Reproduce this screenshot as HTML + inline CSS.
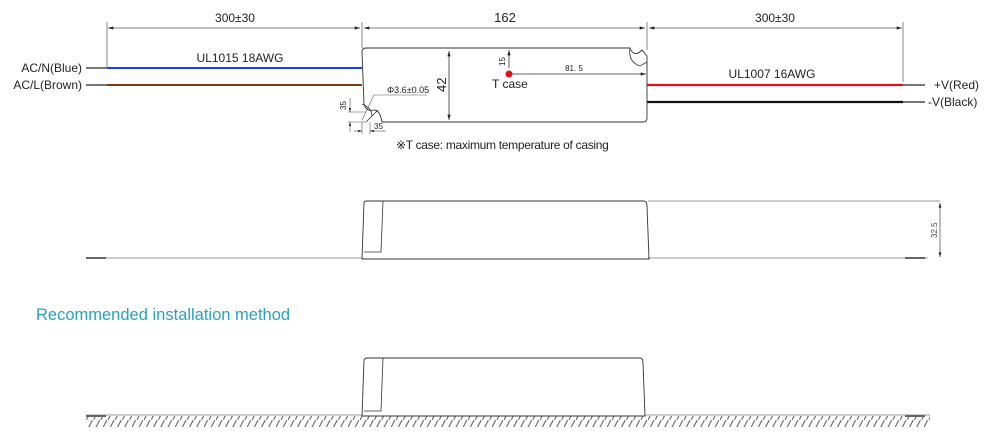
<!DOCTYPE html>
<html><head><meta charset="utf-8"><style>
html,body{margin:0;padding:0;background:#fff;width:1000px;height:440px;overflow:hidden}
svg{display:block}
text{font-family:"Liberation Sans",sans-serif}
</style></head><body>
<svg width="1000" height="440" viewBox="0 0 1000 440" xmlns="http://www.w3.org/2000/svg">
<defs>
<marker id="a" viewBox="0 0 10 6" refX="10" refY="3" markerWidth="7" markerHeight="4" orient="auto-start-reverse"><path d="M0,0L10,3L0,6z" fill="#222"/></marker>
<pattern id="h" width="7.2" height="12" patternUnits="userSpaceOnUse"><path d="M6,0L0,12" stroke="#555" stroke-width="1"/></pattern>
</defs>
<g stroke="#888" stroke-width="1" fill="none">
<line x1="107" y1="22" x2="107" y2="68"/>
<line x1="362" y1="22" x2="362" y2="48"/>
<line x1="647" y1="22" x2="647" y2="50"/>
<line x1="903" y1="22" x2="903" y2="82"/>
</g>
<g stroke="#555" stroke-width="0.8" fill="none">
<line x1="108" y1="28" x2="360" y2="28" marker-start="url(#a)" marker-end="url(#a)"/>
<line x1="364" y1="28" x2="645" y2="28" marker-start="url(#a)" marker-end="url(#a)"/>
<line x1="649" y1="28" x2="902" y2="28" marker-start="url(#a)" marker-end="url(#a)"/>
</g>
<g font-size="12" fill="#222" text-anchor="middle">
<text x="235" y="22">300±30</text>
<text x="505" y="22" font-size="13">162</text>
<text x="775" y="22">300±30</text>
<text x="240" y="62">UL1015 18AWG</text>
<text x="772" y="78">UL1007 16AWG</text>
</g>
<g font-size="12" fill="#222" text-anchor="end">
<text x="82" y="72">AC/N(Blue)</text>
<text x="82" y="89">AC/L(Brown)</text>
</g>
<g font-size="12" fill="#222">
<text x="934" y="89">+V(Red)</text>
<text x="928" y="106">-V(Black)</text>
</g>
<line x1="86" y1="68" x2="107" y2="68" stroke="#777" stroke-width="2"/>
<line x1="86" y1="85" x2="107" y2="85" stroke="#777" stroke-width="2"/>
<line x1="107" y1="68" x2="362" y2="68" stroke="#1a3ee8" stroke-width="2"/>
<line x1="107" y1="85" x2="362" y2="85" stroke="#7a3a0a" stroke-width="2"/>
<line x1="647" y1="85" x2="903" y2="85" stroke="#e0101a" stroke-width="2.2"/>
<line x1="647" y1="102" x2="903" y2="102" stroke="#111" stroke-width="2.2"/>
<line x1="903" y1="85" x2="925" y2="85" stroke="#777" stroke-width="2"/>
<line x1="903" y1="102" x2="925" y2="102" stroke="#777" stroke-width="2"/>
<path d="M366,48H630 Q634,58 642,50 L647,56 V118 Q647,122 643,122 H382 Q380,110 374,110 Q366,112 364,104 L362,52 Q362,48 366,48Z" fill="none" stroke="#333" stroke-width="0.9"/>
<path d="M630,48 Q628,62 640,66 L647,62" fill="none" stroke="#333" stroke-width="0.8"/>
<path d="M362,104 Q372,108 372,116 M366,122 L378,110" fill="none" stroke="#333" stroke-width="0.8"/>
<line x1="449" y1="51" x2="449" y2="120" stroke="#333" stroke-width="0.8" marker-start="url(#a)" marker-end="url(#a)"/>
<text x="0" y="0" font-size="13" fill="#222" transform="translate(446,92) rotate(-90)">42</text>
<line x1="509" y1="68" x2="509" y2="50" stroke="#333" stroke-width="0.8" marker-end="url(#a)"/>
<text font-size="8" fill="#222" transform="translate(505,66) rotate(-90)">15</text>
<circle cx="509" cy="74" r="3.5" fill="#e0101a"/>
<line x1="512" y1="74" x2="646" y2="74" stroke="#333" stroke-width="0.8" marker-end="url(#a)"/>
<text x="574" y="71" font-size="8" fill="#222" text-anchor="middle">81. 5</text>
<text x="492" y="88" font-size="12" fill="#222">T case</text>
<line x1="374" y1="95" x2="427" y2="95" stroke="#555" stroke-width="0.6"/>
<line x1="374" y1="95" x2="362" y2="120" stroke="#555" stroke-width="0.6"/>
<text x="387" y="93" font-size="9" fill="#222">Φ3.6±0.05</text>
<line x1="348" y1="112" x2="366" y2="112" stroke="#555" stroke-width="0.6"/>
<line x1="348" y1="122" x2="366" y2="122" stroke="#555" stroke-width="0.6"/>
<line x1="350" y1="98" x2="350" y2="112" stroke="#555" stroke-width="0.6" marker-end="url(#a)"/>
<line x1="350" y1="132" x2="350" y2="122" stroke="#555" stroke-width="0.6" marker-end="url(#a)"/>
<text font-size="8" fill="#222" transform="translate(346,110) rotate(-90)">35</text>
<line x1="362" y1="122" x2="362" y2="134" stroke="#555" stroke-width="0.6"/>
<line x1="370" y1="122" x2="370" y2="134" stroke="#555" stroke-width="0.6"/>
<line x1="354" y1="131" x2="362" y2="131" stroke="#555" stroke-width="0.6" marker-end="url(#a)"/>
<line x1="386" y1="131" x2="370" y2="131" stroke="#555" stroke-width="0.6" marker-end="url(#a)"/>
<text x="374" y="129" font-size="8" fill="#222">35</text>
<text x="396" y="149" font-size="12" fill="#222" style="letter-spacing:-0.3px">※T case: maximum temperature of casing</text>
<line x1="86" y1="258" x2="362" y2="258" stroke="#999" stroke-width="1"/>
<line x1="648" y1="258" x2="928" y2="258" stroke="#999" stroke-width="1"/>
<line x1="648" y1="201" x2="940" y2="201" stroke="#999" stroke-width="1"/>
<line x1="86" y1="258" x2="106" y2="258" stroke="#666" stroke-width="2"/>
<line x1="905" y1="258" x2="925" y2="258" stroke="#666" stroke-width="2"/>
<path d="M362,259 L364,203 Q364,201 367,201 H644 Q647,201 647,206 L649,259Z" fill="none" stroke="#333" stroke-width="0.9"/>
<path d="M364,252 H381 L383,201" fill="none" stroke="#333" stroke-width="0.8"/>
<line x1="940" y1="203" x2="940" y2="257" stroke="#444" stroke-width="0.7" marker-start="url(#a)" marker-end="url(#a)"/>
<text font-size="8" fill="#444" transform="translate(937,238) rotate(-90)">32.5</text>
<text x="36" y="320" font-size="16.5" fill="#2aa1c0">Recommended installation method</text>
<line x1="86" y1="415" x2="930" y2="415" stroke="#999" stroke-width="1"/>
<rect x="86" y="416" width="844" height="11" fill="url(#h)"/>
<line x1="86" y1="416" x2="106" y2="416" stroke="#666" stroke-width="2"/>
<line x1="905" y1="416" x2="925" y2="416" stroke="#666" stroke-width="2"/>
<path d="M362,416 L364,361 Q364,358 367,358 H640 Q643,358 643,363 L645,416Z" fill="#fff" stroke="#333" stroke-width="0.9"/>
<path d="M364,411 H381 L383,358" fill="none" stroke="#333" stroke-width="0.8"/>
</svg>
</body></html>
